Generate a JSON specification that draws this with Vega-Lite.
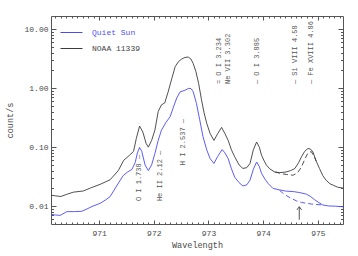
{
  "$schema": "https://vega.github.io/schema/vega-lite/v6.json",
  "width": 292,
  "height": 208,
  "autosize": {"type": "none"},
  "padding": {"left": 51, "top": 16, "right": 15, "bottom": 32},
  "config": {
    "view": {"stroke": "#555555", "strokeWidth": 1},
    "font": "Liberation Mono",
    "axis": {"grid": false, "labelFont": "Liberation Mono", "titleFont": "Liberation Mono"},
    "legend": {"labelFont": "Liberation Mono"}
  },
  "datasets": {
    "spectra": [
      {"src": "NOAA 11339", "comp": "total", "w": 970.12, "v": 0.0153},
      {"src": "NOAA 11339", "comp": "total", "w": 970.2, "v": 0.0150},
      {"src": "NOAA 11339", "comp": "total", "w": 970.3, "v": 0.0146},
      {"src": "NOAA 11339", "comp": "total", "w": 970.4, "v": 0.0158},
      {"src": "NOAA 11339", "comp": "total", "w": 970.53, "v": 0.0173},
      {"src": "NOAA 11339", "comp": "total", "w": 970.71, "v": 0.0181},
      {"src": "NOAA 11339", "comp": "total", "w": 970.84, "v": 0.0203},
      {"src": "NOAA 11339", "comp": "total", "w": 971.02, "v": 0.0235},
      {"src": "NOAA 11339", "comp": "total", "w": 971.2, "v": 0.028},
      {"src": "NOAA 11339", "comp": "total", "w": 971.35, "v": 0.040},
      {"src": "NOAA 11339", "comp": "total", "w": 971.45, "v": 0.060},
      {"src": "NOAA 11339", "comp": "total", "w": 971.55, "v": 0.072},
      {"src": "NOAA 11339", "comp": "total", "w": 971.63, "v": 0.085},
      {"src": "NOAA 11339", "comp": "total", "w": 971.68, "v": 0.14},
      {"src": "NOAA 11339", "comp": "total", "w": 971.74, "v": 0.227},
      {"src": "NOAA 11339", "comp": "total", "w": 971.8, "v": 0.18},
      {"src": "NOAA 11339", "comp": "total", "w": 971.86, "v": 0.115},
      {"src": "NOAA 11339", "comp": "total", "w": 971.9, "v": 0.10},
      {"src": "NOAA 11339", "comp": "total", "w": 971.96, "v": 0.13},
      {"src": "NOAA 11339", "comp": "total", "w": 972.02, "v": 0.194},
      {"src": "NOAA 11339", "comp": "total", "w": 972.08, "v": 0.40},
      {"src": "NOAA 11339", "comp": "total", "w": 972.14, "v": 0.52},
      {"src": "NOAA 11339", "comp": "total", "w": 972.2, "v": 0.56},
      {"src": "NOAA 11339", "comp": "total", "w": 972.26, "v": 0.85},
      {"src": "NOAA 11339", "comp": "total", "w": 972.33, "v": 1.46},
      {"src": "NOAA 11339", "comp": "total", "w": 972.39, "v": 2.3},
      {"src": "NOAA 11339", "comp": "total", "w": 972.45, "v": 2.8},
      {"src": "NOAA 11339", "comp": "total", "w": 972.51, "v": 3.1},
      {"src": "NOAA 11339", "comp": "total", "w": 972.57, "v": 3.3},
      {"src": "NOAA 11339", "comp": "total", "w": 972.63, "v": 3.35},
      {"src": "NOAA 11339", "comp": "total", "w": 972.68, "v": 3.1},
      {"src": "NOAA 11339", "comp": "total", "w": 972.72, "v": 2.6},
      {"src": "NOAA 11339", "comp": "total", "w": 972.77, "v": 1.9},
      {"src": "NOAA 11339", "comp": "total", "w": 972.82, "v": 1.2},
      {"src": "NOAA 11339", "comp": "total", "w": 972.87, "v": 0.65},
      {"src": "NOAA 11339", "comp": "total", "w": 972.92, "v": 0.38},
      {"src": "NOAA 11339", "comp": "total", "w": 972.97, "v": 0.25},
      {"src": "NOAA 11339", "comp": "total", "w": 973.03, "v": 0.17},
      {"src": "NOAA 11339", "comp": "total", "w": 973.1, "v": 0.13},
      {"src": "NOAA 11339", "comp": "total", "w": 973.17, "v": 0.17},
      {"src": "NOAA 11339", "comp": "total", "w": 973.24, "v": 0.216},
      {"src": "NOAA 11339", "comp": "total", "w": 973.3, "v": 0.17},
      {"src": "NOAA 11339", "comp": "total", "w": 973.36, "v": 0.13},
      {"src": "NOAA 11339", "comp": "total", "w": 973.42, "v": 0.09},
      {"src": "NOAA 11339", "comp": "total", "w": 973.48, "v": 0.0685},
      {"src": "NOAA 11339", "comp": "total", "w": 973.56, "v": 0.05},
      {"src": "NOAA 11339", "comp": "total", "w": 973.63, "v": 0.0436},
      {"src": "NOAA 11339", "comp": "total", "w": 973.7, "v": 0.045},
      {"src": "NOAA 11339", "comp": "total", "w": 973.76, "v": 0.053},
      {"src": "NOAA 11339", "comp": "total", "w": 973.82, "v": 0.09},
      {"src": "NOAA 11339", "comp": "total", "w": 973.88, "v": 0.122},
      {"src": "NOAA 11339", "comp": "total", "w": 973.93, "v": 0.10},
      {"src": "NOAA 11339", "comp": "total", "w": 973.97, "v": 0.073},
      {"src": "NOAA 11339", "comp": "total", "w": 974.02, "v": 0.058},
      {"src": "NOAA 11339", "comp": "total", "w": 974.06, "v": 0.0496},
      {"src": "NOAA 11339", "comp": "total", "w": 974.12, "v": 0.043},
      {"src": "NOAA 11339", "comp": "total", "w": 974.21, "v": 0.038},
      {"src": "NOAA 11339", "comp": "total", "w": 974.3, "v": 0.037},
      {"src": "NOAA 11339", "comp": "total", "w": 974.42, "v": 0.038},
      {"src": "NOAA 11339", "comp": "total", "w": 974.5, "v": 0.040},
      {"src": "NOAA 11339", "comp": "total", "w": 974.58, "v": 0.0435},
      {"src": "NOAA 11339", "comp": "total", "w": 974.65, "v": 0.055},
      {"src": "NOAA 11339", "comp": "total", "w": 974.7, "v": 0.0685},
      {"src": "NOAA 11339", "comp": "total", "w": 974.76, "v": 0.085},
      {"src": "NOAA 11339", "comp": "total", "w": 974.82, "v": 0.095},
      {"src": "NOAA 11339", "comp": "total", "w": 974.87, "v": 0.092},
      {"src": "NOAA 11339", "comp": "total", "w": 974.91, "v": 0.083},
      {"src": "NOAA 11339", "comp": "total", "w": 974.97, "v": 0.058},
      {"src": "NOAA 11339", "comp": "total", "w": 975.03, "v": 0.0435},
      {"src": "NOAA 11339", "comp": "total", "w": 975.09, "v": 0.033},
      {"src": "NOAA 11339", "comp": "total", "w": 975.15, "v": 0.0276},
      {"src": "NOAA 11339", "comp": "total", "w": 975.22, "v": 0.024},
      {"src": "NOAA 11339", "comp": "total", "w": 975.28, "v": 0.0227},
      {"src": "NOAA 11339", "comp": "total", "w": 975.36, "v": 0.021},
      {"src": "NOAA 11339", "comp": "total", "w": 975.46, "v": 0.0203},
      {"src": "NOAA 11339", "comp": "model", "w": 974.22, "v": 0.038},
      {"src": "NOAA 11339", "comp": "model", "w": 974.3, "v": 0.0362},
      {"src": "NOAA 11339", "comp": "model", "w": 974.42, "v": 0.0345},
      {"src": "NOAA 11339", "comp": "model", "w": 974.55, "v": 0.0335},
      {"src": "NOAA 11339", "comp": "model", "w": 974.63, "v": 0.037},
      {"src": "NOAA 11339", "comp": "model", "w": 974.7, "v": 0.046},
      {"src": "NOAA 11339", "comp": "model", "w": 974.76, "v": 0.062},
      {"src": "NOAA 11339", "comp": "model", "w": 974.82, "v": 0.08},
      {"src": "NOAA 11339", "comp": "model", "w": 974.88, "v": 0.084},
      {"src": "NOAA 11339", "comp": "model", "w": 974.93, "v": 0.07},
      {"src": "NOAA 11339", "comp": "model", "w": 974.97, "v": 0.058},
      {"src": "Quiet Sun", "comp": "total", "w": 970.12, "v": 0.0073},
      {"src": "Quiet Sun", "comp": "total", "w": 970.2, "v": 0.0071},
      {"src": "Quiet Sun", "comp": "total", "w": 970.29, "v": 0.0070},
      {"src": "Quiet Sun", "comp": "total", "w": 970.41, "v": 0.0081},
      {"src": "Quiet Sun", "comp": "total", "w": 970.55, "v": 0.0081},
      {"src": "Quiet Sun", "comp": "total", "w": 970.68, "v": 0.0082},
      {"src": "Quiet Sun", "comp": "total", "w": 970.78, "v": 0.009},
      {"src": "Quiet Sun", "comp": "total", "w": 970.87, "v": 0.0099},
      {"src": "Quiet Sun", "comp": "total", "w": 971.02, "v": 0.0112},
      {"src": "Quiet Sun", "comp": "total", "w": 971.12, "v": 0.0128},
      {"src": "Quiet Sun", "comp": "total", "w": 971.2, "v": 0.0145},
      {"src": "Quiet Sun", "comp": "total", "w": 971.32, "v": 0.022},
      {"src": "Quiet Sun", "comp": "total", "w": 971.44, "v": 0.033},
      {"src": "Quiet Sun", "comp": "total", "w": 971.52, "v": 0.038},
      {"src": "Quiet Sun", "comp": "total", "w": 971.6, "v": 0.042},
      {"src": "Quiet Sun", "comp": "total", "w": 971.66, "v": 0.055},
      {"src": "Quiet Sun", "comp": "total", "w": 971.7, "v": 0.08},
      {"src": "Quiet Sun", "comp": "total", "w": 971.74, "v": 0.099},
      {"src": "Quiet Sun", "comp": "total", "w": 971.78, "v": 0.085},
      {"src": "Quiet Sun", "comp": "total", "w": 971.84, "v": 0.05},
      {"src": "Quiet Sun", "comp": "total", "w": 971.9, "v": 0.040},
      {"src": "Quiet Sun", "comp": "total", "w": 971.96, "v": 0.05},
      {"src": "Quiet Sun", "comp": "total", "w": 972.02, "v": 0.078},
      {"src": "Quiet Sun", "comp": "total", "w": 972.08, "v": 0.13},
      {"src": "Quiet Sun", "comp": "total", "w": 972.14, "v": 0.194},
      {"src": "Quiet Sun", "comp": "total", "w": 972.22, "v": 0.26},
      {"src": "Quiet Sun", "comp": "total", "w": 972.3, "v": 0.33},
      {"src": "Quiet Sun", "comp": "total", "w": 972.36, "v": 0.48},
      {"src": "Quiet Sun", "comp": "total", "w": 972.42, "v": 0.68},
      {"src": "Quiet Sun", "comp": "total", "w": 972.48, "v": 0.86},
      {"src": "Quiet Sun", "comp": "total", "w": 972.57, "v": 0.92},
      {"src": "Quiet Sun", "comp": "total", "w": 972.64, "v": 0.99},
      {"src": "Quiet Sun", "comp": "total", "w": 972.68, "v": 0.98},
      {"src": "Quiet Sun", "comp": "total", "w": 972.72, "v": 0.87},
      {"src": "Quiet Sun", "comp": "total", "w": 972.78, "v": 0.55},
      {"src": "Quiet Sun", "comp": "total", "w": 972.84, "v": 0.29},
      {"src": "Quiet Sun", "comp": "total", "w": 972.9, "v": 0.15},
      {"src": "Quiet Sun", "comp": "total", "w": 972.97, "v": 0.089},
      {"src": "Quiet Sun", "comp": "total", "w": 973.03, "v": 0.064},
      {"src": "Quiet Sun", "comp": "total", "w": 973.1, "v": 0.053},
      {"src": "Quiet Sun", "comp": "total", "w": 973.17, "v": 0.07},
      {"src": "Quiet Sun", "comp": "total", "w": 973.25, "v": 0.091},
      {"src": "Quiet Sun", "comp": "total", "w": 973.3, "v": 0.08},
      {"src": "Quiet Sun", "comp": "total", "w": 973.36, "v": 0.064},
      {"src": "Quiet Sun", "comp": "total", "w": 973.42, "v": 0.043},
      {"src": "Quiet Sun", "comp": "total", "w": 973.48, "v": 0.031},
      {"src": "Quiet Sun", "comp": "total", "w": 973.56, "v": 0.025},
      {"src": "Quiet Sun", "comp": "total", "w": 973.63, "v": 0.022},
      {"src": "Quiet Sun", "comp": "total", "w": 973.7, "v": 0.023},
      {"src": "Quiet Sun", "comp": "total", "w": 973.76, "v": 0.0276},
      {"src": "Quiet Sun", "comp": "total", "w": 973.82, "v": 0.042},
      {"src": "Quiet Sun", "comp": "total", "w": 973.88, "v": 0.056},
      {"src": "Quiet Sun", "comp": "total", "w": 973.93, "v": 0.047},
      {"src": "Quiet Sun", "comp": "total", "w": 973.97, "v": 0.036},
      {"src": "Quiet Sun", "comp": "total", "w": 974.03, "v": 0.029},
      {"src": "Quiet Sun", "comp": "total", "w": 974.09, "v": 0.0243},
      {"src": "Quiet Sun", "comp": "total", "w": 974.18, "v": 0.020},
      {"src": "Quiet Sun", "comp": "total", "w": 974.3, "v": 0.0189},
      {"src": "Quiet Sun", "comp": "total", "w": 974.42, "v": 0.018},
      {"src": "Quiet Sun", "comp": "total", "w": 974.55, "v": 0.0177},
      {"src": "Quiet Sun", "comp": "total", "w": 974.67, "v": 0.017},
      {"src": "Quiet Sun", "comp": "total", "w": 974.79, "v": 0.016},
      {"src": "Quiet Sun", "comp": "total", "w": 974.87, "v": 0.0145},
      {"src": "Quiet Sun", "comp": "total", "w": 974.94, "v": 0.0129},
      {"src": "Quiet Sun", "comp": "total", "w": 975.02, "v": 0.0115},
      {"src": "Quiet Sun", "comp": "total", "w": 975.09, "v": 0.0105},
      {"src": "Quiet Sun", "comp": "total", "w": 975.2, "v": 0.0101},
      {"src": "Quiet Sun", "comp": "total", "w": 975.32, "v": 0.0100},
      {"src": "Quiet Sun", "comp": "total", "w": 975.46, "v": 0.0098},
      {"src": "Quiet Sun", "comp": "model", "w": 974.3, "v": 0.0185},
      {"src": "Quiet Sun", "comp": "model", "w": 974.39, "v": 0.0158},
      {"src": "Quiet Sun", "comp": "model", "w": 974.5, "v": 0.0138},
      {"src": "Quiet Sun", "comp": "model", "w": 974.61, "v": 0.0123},
      {"src": "Quiet Sun", "comp": "model", "w": 974.7, "v": 0.0116},
      {"src": "Quiet Sun", "comp": "model", "w": 974.79, "v": 0.0112},
      {"src": "Quiet Sun", "comp": "model", "w": 974.88, "v": 0.0109},
      {"src": "Quiet Sun", "comp": "model", "w": 974.97, "v": 0.0107},
      {"src": "Quiet Sun", "comp": "model", "w": 975.09, "v": 0.0105}
    ],
    "labels": [
      {"label": "O I 1.738 \u2014", "w": 971.738, "v": 0.0122},
      {"label": "He II 2.12 \u2014", "w": 972.12, "v": 0.0122},
      {"label": "H I 2.537 \u2014", "w": 972.537, "v": 0.0495},
      {"label": "= O I 3.234", "w": 973.19, "v": 1.17},
      {"label": "  Ne VII 3.302", "w": 973.36, "v": 1.17},
      {"label": "\u2014 O I 3.885", "w": 973.885, "v": 1.17},
      {"label": "\u2014 Si VIII 4.58", "w": 974.58, "v": 1.17},
      {"label": "\u2014 Fe XVIII 4.86", "w": 974.88, "v": 1.17}
    ],
    "arrow": [{"w": 974.66, "vlo": 0.0059, "vhi": 0.0098}]
  },
  "resolve": {"axis": {"x": "independent", "y": "independent"}},
  "layer": [
    {
      "data": {"name": "spectra"},
      "transform": [{"filter": "datum.comp == 'total'"}],
      "mark": {"type": "line", "strokeWidth": 0.9},
      "encoding": {
        "x": {"field": "w", "type": "quantitative", "scale": {"domain": [970.12, 975.46], "nice": false, "zero": false},
          "axis": {"orient": "bottom", "values": [971, 972, 973, 974, 975], "format": "d", "ticks": false, "domain": false, "labelPadding": 5, "labelFontSize": 8, "labelColor": "#4a4a4a", "title": "Wavelength", "titleFontSize": 8.5, "titleFontWeight": "normal", "titleColor": "#4a4a4a", "titlePadding": 3}},
        "y": {"field": "v", "type": "quantitative", "scale": {"type": "log", "domain": [0.005, 16.6], "nice": false},
          "axis": {"orient": "left", "values": [0.01, 0.1, 1, 10], "format": ".2f", "ticks": false, "domain": false, "labelPadding": 3, "labelFontSize": 8, "labelColor": "#4a4a4a", "title": "count/s", "titleFontSize": 8.5, "titleFontWeight": "normal", "titleColor": "#4a4a4a", "titlePadding": 9}},
        "color": {"field": "src", "type": "nominal", "scale": {"domain": ["Quiet Sun", "NOAA 11339"], "range": ["#4a4af5", "#3c3c3c"]},
          "legend": {"orient": "none", "legendX": 9, "legendY": 5, "title": null, "symbolType": "stroke", "symbolSize": 484, "symbolStrokeWidth": 1, "labelFontSize": 8, "labelOffset": 9, "rowPadding": -5, "labelColor": {"expr": "datum.label == 'Quiet Sun' ? '#5050f5' : '#444444'"}}}
      }
    },
    {
      "data": {"name": "spectra"},
      "transform": [{"filter": "datum.comp == 'model'"}],
      "mark": {"type": "line", "strokeWidth": 0.9, "strokeDash": [5, 3]},
      "encoding": {
        "x": {"field": "w", "type": "quantitative", "scale": {"domain": [970.12, 975.46], "nice": false, "zero": false},
          "axis": {"orient": "top", "values": [971, 972, 973, 974, 975], "labels": false, "domain": false, "tickSize": -4, "tickColor": "#555555", "title": null}},
        "y": {"field": "v", "type": "quantitative", "scale": {"type": "log", "domain": [0.005, 16.6], "nice": false},
          "axis": {"orient": "right", "values": [0.01, 0.1, 1, 10], "labels": false, "domain": false, "tickSize": -5, "tickColor": "#555555", "title": null}},
        "color": {"field": "src", "type": "nominal", "scale": {"domain": ["Quiet Sun", "NOAA 11339"], "range": ["#4a4af5", "#3c3c3c"]},
          "legend": {"orient": "none", "legendX": 9, "legendY": 5, "title": null, "symbolType": "stroke", "symbolSize": 484, "symbolStrokeWidth": 1, "labelFontSize": 8, "labelOffset": 9, "rowPadding": -5, "labelColor": {"expr": "datum.label == 'Quiet Sun' ? '#5050f5' : '#444444'"}}}
      }
    },
    {
      "data": {"name": "labels"},
      "mark": {"type": "text", "angle": 270, "align": "left", "baseline": "middle", "font": "Liberation Mono", "fontSize": 7, "color": "#555555"},
      "encoding": {
        "x": {"field": "w", "type": "quantitative", "scale": {"domain": [970.12, 975.46], "nice": false, "zero": false},
          "axis": {"orient": "bottom", "values": [971, 972, 973, 974, 975], "labels": false, "domain": false, "tickSize": -4, "tickColor": "#555555", "title": null}},
        "y": {"field": "v", "type": "quantitative", "scale": {"type": "log", "domain": [0.005, 16.6], "nice": false},
          "axis": {"orient": "left", "values": [0.01, 0.1, 1, 10], "labels": false, "domain": false, "tickSize": -5, "tickColor": "#555555", "title": null}},
        "text": {"field": "label"}
      }
    },
    {
      "data": {"name": "arrow"},
      "mark": {"type": "rule", "color": "#555555", "strokeWidth": 1},
      "encoding": {
        "x": {"field": "w", "type": "quantitative", "scale": {"domain": [970.12, 975.46], "nice": false, "zero": false},
          "axis": {"orient": "bottom", "values": [970.2, 970.3, 970.4, 970.5, 970.6, 970.7, 970.8, 970.9, 971.1, 971.2, 971.3, 971.4, 971.5, 971.6, 971.7, 971.8, 971.9, 972.1, 972.2, 972.3, 972.4, 972.5, 972.6, 972.7, 972.8, 972.9, 973.1, 973.2, 973.3, 973.4, 973.5, 973.6, 973.7, 973.8, 973.9, 974.1, 974.2, 974.3, 974.4, 974.5, 974.6, 974.7, 974.8, 974.9, 975.1, 975.2, 975.3, 975.4], "labels": false, "domain": false, "tickSize": -2, "tickColor": "#555555", "title": null}},
        "y": {"field": "vlo", "type": "quantitative", "scale": {"type": "log", "domain": [0.005, 16.6], "nice": false},
          "axis": {"orient": "left", "values": [0.006, 0.007, 0.008, 0.009, 0.02, 0.03, 0.04, 0.05, 0.06, 0.07, 0.08, 0.09, 0.2, 0.3, 0.4, 0.5, 0.6, 0.7, 0.8, 0.9, 2, 3, 4, 5, 6, 7, 8, 9], "labels": false, "domain": false, "tickSize": -2.5, "tickColor": "#555555", "title": null}},
        "y2": {"field": "vhi"}
      }
    },
    {
      "data": {"name": "arrow"},
      "mark": {"type": "point", "shape": "M-0.6,0.8L0,0L0.6,0.8", "filled": false, "stroke": "#555555", "strokeWidth": 1, "size": 64, "opacity": 1},
      "encoding": {
        "x": {"field": "w", "type": "quantitative", "scale": {"domain": [970.12, 975.46], "nice": false, "zero": false},
          "axis": {"orient": "top", "values": [970.2, 970.3, 970.4, 970.5, 970.6, 970.7, 970.8, 970.9, 971.1, 971.2, 971.3, 971.4, 971.5, 971.6, 971.7, 971.8, 971.9, 972.1, 972.2, 972.3, 972.4, 972.5, 972.6, 972.7, 972.8, 972.9, 973.1, 973.2, 973.3, 973.4, 973.5, 973.6, 973.7, 973.8, 973.9, 974.1, 974.2, 974.3, 974.4, 974.5, 974.6, 974.7, 974.8, 974.9, 975.1, 975.2, 975.3, 975.4], "labels": false, "domain": false, "tickSize": -2, "tickColor": "#555555", "title": null}},
        "y": {"field": "vhi", "type": "quantitative", "scale": {"type": "log", "domain": [0.005, 16.6], "nice": false},
          "axis": {"orient": "right", "values": [0.006, 0.007, 0.008, 0.009, 0.02, 0.03, 0.04, 0.05, 0.06, 0.07, 0.08, 0.09, 0.2, 0.3, 0.4, 0.5, 0.6, 0.7, 0.8, 0.9, 2, 3, 4, 5, 6, 7, 8, 9], "labels": false, "domain": false, "tickSize": -2.5, "tickColor": "#555555", "title": null}}
      }
    }
  ]
}
